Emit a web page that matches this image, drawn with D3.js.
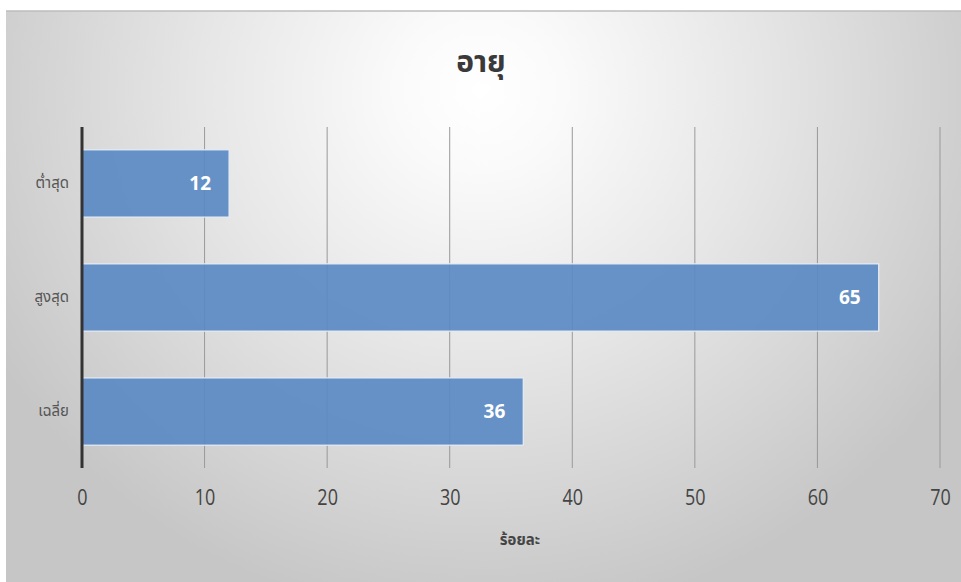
<!DOCTYPE html>
<html><head><meta charset="utf-8">
<script src="https://cdn.jsdelivr.net/npm/d3@7"></script>
<style>html,body{margin:0;padding:0;background:#fff;overflow:hidden}</style>
</head><body>
<svg id="c" width="961" height="582"></svg>
<script>
const categories = ["ต่ำสุด", "สูงสุด", "เฉลี่ย"];
const values = [12, 65, 36];
const xTicks = [0, 10, 20, 30, 40, 50, 60, 70];
const title = "อายุ";
const xTitle = "ร้อยละ";

const svg = d3.select("#c");
const defs = svg.append("defs");
const rg = defs.append("radialGradient").attr("id","bg")
  .attr("gradientUnits","userSpaceOnUse").attr("cx",480).attr("cy",90).attr("r",560)
  .attr("gradientTransform","translate(480,90) scale(1,0.95) translate(-480,-90)");
rg.append("stop").attr("offset","0").attr("stop-color","#ffffff");
rg.append("stop").attr("offset","0.15").attr("stop-color","#fafafa");
rg.append("stop").attr("offset","0.5").attr("stop-color","#e6e6e6");
rg.append("stop").attr("offset","1").attr("stop-color","#c6c6c6");

svg.append("rect").attr("x",6).attr("y",11).attr("width",955).attr("height",571).attr("fill","url(#bg)");
svg.append("line").attr("x1",6).attr("x2",961).attr("y1",11).attr("y2",11).attr("stroke","#bdbdbd").attr("stroke-width",1.5);

const m = {l:82, r:940, t:127, b:468};
const x = d3.scaleLinear().domain([0,70]).range([m.l, m.r]);
const y = d3.scaleBand().domain(categories).range([m.t, m.b]).paddingInner(0.41).paddingOuter(0.2);

// gridlines
svg.append("g").selectAll("line").data(xTicks.slice(1)).join("line")
  .attr("x1",d=>x(d)).attr("x2",d=>x(d)).attr("y1",m.t).attr("y2",m.b)
  .attr("stroke","#999").attr("stroke-width",1);

// bars
svg.append("g").selectAll("rect").data(values).join("rect")
  .attr("x",x(0)).attr("y",(d,i)=>y(categories[i]))
  .attr("width",d=>x(d)-x(0)).attr("height",y.bandwidth())
  .attr("fill","#5b8ac4").attr("fill-opacity",0.92)
  .attr("stroke","#e8eef6").attr("stroke-width",1.2);

// value labels
svg.append("g").selectAll("text").data(values).join("text")
  .attr("x",d=>x(d)-18).attr("y",(d,i)=>y(categories[i])+y.bandwidth()/2)
  .attr("dy","0.36em").attr("text-anchor","end")
  .attr("fill","#fff").attr("font-weight","bold").attr("font-size",19)
  .attr("font-family","'Open Sans', 'Noto Sans', sans-serif")
  .text(d=>d);

// y axis line
svg.append("line").attr("x1",x(0)).attr("x2",x(0)).attr("y1",m.t).attr("y2",m.b)
  .attr("stroke","#333").attr("stroke-width",3);

// x tick labels via axis
const xa = svg.append("g").attr("transform",`translate(0,${m.b})`)
  .call(d3.axisBottom(x).tickValues(xTicks).tickSize(0).tickPadding(22));
xa.select(".domain").remove();
xa.selectAll("text").attr("font-size",20).attr("fill","#444")
  .attr("font-family","'Open Sans', 'Noto Sans', sans-serif")
  .attr("transform","scale(0.9,1.05)").attr("x",function(d){return x(d)/0.9 - x(d);});
xa.selectAll(".tick").each(function(d){
  d3.select(this).select("text").attr("transform",null).attr("x",0)
    .attr("style","transform: scale(0.9,1.05); transform-box: fill-box; transform-origin: center;");
});

// y labels via axis
const ya = svg.append("g").attr("transform",`translate(${m.l},0)`)
  .call(d3.axisLeft(y).tickSize(0).tickPadding(13));
ya.select(".domain").remove();
ya.selectAll("text").attr("font-size",15).attr("fill","#555")
  .attr("font-family","'Noto Sans Thai','Noto Sans', sans-serif");

// title
svg.append("text").attr("x",481).attr("y",72).attr("text-anchor","middle")
  .attr("font-size",30).attr("font-weight","bold").attr("fill","#3a3a3a")
  .attr("font-family","'Noto Sans Thai','Noto Sans', sans-serif").text(title);

// axis title
svg.append("text").attr("x",520).attr("y",545).attr("text-anchor","middle")
  .attr("font-size",15).attr("font-weight","bold").attr("fill","#444")
  .attr("font-family","'Noto Sans Thai','Noto Sans', sans-serif").text(xTitle);
</script>
</body></html>
